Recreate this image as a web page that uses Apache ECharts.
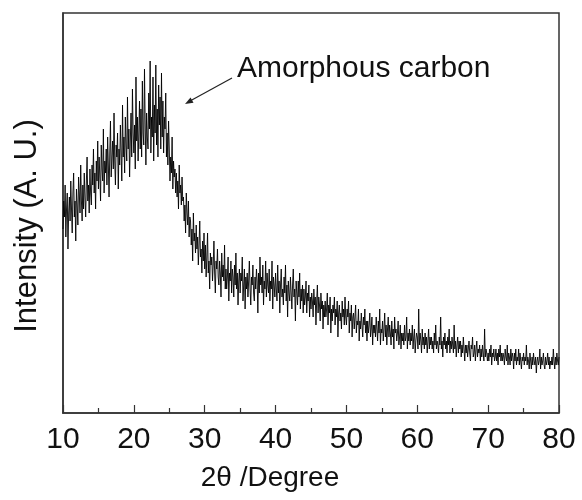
<!DOCTYPE html>
<html>
<head>
<meta charset="utf-8">
<script src="https://cdn.jsdelivr.net/npm/echarts@6/dist/echarts.min.js"></script>
<style>
    html, body { margin: 0; padding: 0; background: #fff; }
    #chart { width: 582px; height: 500px; }
</style>
</head>
<body>
<div id="chart"></div>
<script>
// XRD scan: 2θ from 10° to 80°, one reading every 0.1°
const ANGLE_START = 10;
const ANGLE_STEP = 0.1;

// intensity (arbitrary units), one row per degree
const intensity = [
    46, 53, 49, 57, 44, 51, 55, 41, 50, 54,
    48, 58, 51, 45, 55, 60, 49, 53, 43, 56,
    52, 47, 59, 55, 50, 62, 53, 48, 57, 51,
    60, 54, 49, 58, 64, 53, 57, 50, 61, 55,
    52, 62, 57, 66, 55, 60, 51, 63, 58, 68,
    56, 64, 59, 53, 67, 61, 58, 71, 55, 63,
    60, 66, 57, 69, 62, 54, 65, 73, 59, 64,
    68, 61, 75, 63, 57, 67, 64, 70, 56, 66,
    62, 72, 65, 58, 77, 64, 69, 60, 74, 67,
    63, 79, 66, 71, 59, 68, 75, 64, 81, 70,
    65, 72, 61, 84, 68, 74, 63, 70, 78, 66,
    76, 64, 83, 70, 67, 86, 72, 62, 75, 69,
    66, 80, 71, 88, 65, 74, 69, 84, 63, 77,
    70, 87, 67, 76, 64, 82, 72, 79, 66, 85,
    69, 78, 65, 74, 71, 80, 64, 70, 62, 73,
    66, 58, 64, 60, 69, 56, 63, 59, 61, 55,
    60, 54, 58, 51, 62, 55, 57, 52, 59, 53,
    54, 48, 52, 45, 55, 50, 47, 53, 44, 49,
    48, 42, 46, 38, 50, 43, 45, 40, 47, 41,
    44, 37, 42, 48, 39, 41, 35, 43, 38, 45,
    36, 42, 34, 39, 45, 35, 38, 31, 40, 37,
    39, 33, 37, 43, 35, 30, 38, 36, 41, 34,
    32, 38, 35, 29, 40, 34, 37, 33, 42, 31,
    36, 31, 34, 39, 28, 35, 33, 38, 30, 36,
    34, 29, 37, 32, 40, 31, 35, 27, 33, 36,
    30, 35, 33, 39, 28, 32, 36, 26, 34, 31,
    35, 29, 33, 38, 31, 27, 34, 32, 37, 30,
    28, 34, 31, 36, 33, 25, 35, 30, 39, 32,
    34, 30, 37, 27, 33, 31, 38, 29, 35, 32,
    30, 36, 28, 33, 31, 38, 26, 34, 32, 29,
    35, 31, 28, 37, 30, 33, 25, 32, 36, 29,
    31, 27, 34, 30, 37, 28, 32, 24, 33, 30,
    28, 34, 30, 26, 32, 36, 29, 31, 23, 33,
    30, 27, 33, 29, 35, 26, 31, 28, 32, 25,
    31, 27, 29, 33, 25, 30, 28, 32, 24, 29,
    26, 30, 28, 24, 31, 27, 29, 22, 28, 32,
    25, 29, 27, 23, 30, 26, 28, 21, 27, 24,
    28, 24, 26, 30, 22, 27, 25, 29, 20, 26,
    23, 27, 25, 29, 22, 26, 24, 28, 19, 25,
    27, 23, 25, 21, 28, 24, 26, 22, 29, 24,
    22, 26, 24, 28, 20, 25, 23, 27, 19, 24,
    25, 21, 24, 27, 20, 23, 22, 26, 18, 23,
    21, 25, 22, 19, 24, 22, 26, 20, 23, 18,
    23, 20, 22, 25, 19, 21, 24, 17, 22, 20,
    22, 19, 24, 21, 18, 23, 20, 26, 17, 21,
    20, 23, 18, 21, 25, 19, 22, 17, 21, 24,
    19, 22, 20, 17, 23, 19, 21, 16, 24, 20,
    21, 18, 20, 23, 17, 19, 22, 16, 20, 18,
    20, 17, 22, 18, 19, 24, 16, 20, 18, 21,
    17, 20, 18, 22, 16, 19, 21, 15, 18, 20,
    19, 16, 26, 17, 20, 18, 15, 21, 17, 19,
    16, 20, 17, 19, 15, 18, 21, 16, 19, 17,
    19, 16, 18, 15, 20, 17, 22, 16, 18, 17,
    15, 19, 17, 24, 16, 18, 14, 19, 17, 20,
    16, 18, 15, 19, 17, 21, 15, 18, 16, 19,
    17, 15, 22, 16, 18, 14, 17, 19, 15, 18,
    16, 18, 14, 17, 15, 19, 16, 13, 17, 15,
    17, 14, 16, 18, 15, 13, 17, 16, 19, 14,
    15, 17, 13, 16, 18, 14, 16, 15, 17, 13,
    16, 14, 17, 15, 13, 21, 14, 16, 15, 13,
    15, 13, 16, 14, 17, 12, 15, 14, 16, 13,
    14, 16, 13, 15, 12, 16, 14, 17, 13, 15,
    13, 15, 14, 12, 16, 14, 13, 17, 12, 15,
    14, 12, 16, 13, 15, 14, 11, 15, 13, 16,
    12, 14, 13, 16, 12, 15, 13, 11, 14, 13,
    15, 12, 14, 13, 17, 12, 14, 13, 11, 15,
    13, 11, 14, 12, 15, 13, 12, 14, 10, 13,
    14, 12, 13, 16, 11, 14, 12, 13, 15, 12,
    11, 14, 12, 13, 15, 12, 14, 11, 13, 12,
    14, 12, 16, 13, 11, 14, 12, 15, 13, 12,
    14
];

const xTicks = [10, 20, 30, 40, 50, 60, 70, 80];
const xTitle = "2θ /Degree";
const yTitle = "Intensity (A. U.)";
const note = "Amorphous carbon";

const FONT = "'Liberation Sans', Arial, sans-serif";

const points = intensity.map((v, i) => [
    +(ANGLE_START + i * ANGLE_STEP).toFixed(1),
    v,
]);

const chart = echarts.init(document.getElementById("chart"));

chart.setOption({
    animation: false,
    backgroundColor: "#fff",
    grid: {
        left: 63,
        right: 23,
        top: 13,
        bottom: 87,
        show: true,
        borderColor: "#333",
        borderWidth: 1.5,
    },
    xAxis: {
        type: "value",
        min: xTicks[0],
        max: xTicks[xTicks.length - 1],
        interval: 10,
        axisLine: { show: true, lineStyle: { color: "#333", width: 1.5 } },
        axisTick: {
            show: true,
            inside: true,
            length: 8,
            lineStyle: { color: "#333", width: 1.2 },
        },
        minorTick: {
            show: true,
            splitNumber: 2,
            length: 5,
            lineStyle: { color: "#333", width: 1.2 },
        },
        splitLine: { show: false },
        axisLabel: {
            margin: 12,
            color: "#111",
            fontSize: 30,
            fontFamily: FONT,
        },
    },
    yAxis: {
        type: "value",
        min: 0,
        max: 100,
        axisLine: { show: true, lineStyle: { color: "#333", width: 1.5 } },
        axisTick: { show: false },
        axisLabel: { show: false },
        splitLine: { show: false },
    },
    series: [
        {
            type: "line",
            data: points,
            showSymbol: false,
            symbol: "none",
            lineStyle: { color: "#000", width: 0.9 },
        },
    ],
    graphic: [
        {
            type: "text",
            left: 237,
            top: 54,
            style: {
                text: note,
                fontSize: 30,
                fontFamily: FONT,
                fill: "#111",
            },
        },
        {
            type: "line",
            shape: { x1: 232, y1: 78, x2: 190, y2: 101 },
            style: { stroke: "#222", lineWidth: 1.2 },
        },
        {
            type: "polygon",
            shape: { points: [[185, 104], [193.5, 102.7], [190.5, 97.5]] },
            style: { fill: "#222" },
        },
        {
            type: "text",
            x: 270,
            y: 478,
            style: {
                text: xTitle,
                fontSize: 28,
                fontFamily: FONT,
                fill: "#111",
                align: "center",
                verticalAlign: "middle",
            },
        },
        {
            type: "text",
            x: 27,
            y: 226,
            rotation: Math.PI / 2,
            style: {
                text: yTitle,
                fontSize: 31,
                fontFamily: FONT,
                fill: "#111",
                align: "center",
                verticalAlign: "middle",
            },
        },
    ],
});
</script>
</body>
</html>
